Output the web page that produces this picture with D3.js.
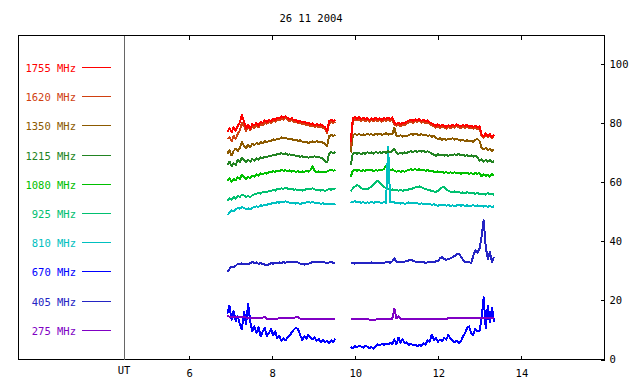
<!DOCTYPE html>
<html>
  <head>
    <meta charset="UTF-8">
    <script src="https://d3js.org/d3.v7.min.js" charset="utf-8"></script>
    <title>26 11 2004</title>
    <style>
      body { margin: 0; background: #fff; }
      .chart text { font-family: "DejaVu Sans Mono", "Liberation Mono", monospace; font-size: 10.5px; fill: #000; }
    </style>
  </head>
  <body>
    <svg class="chart"></svg>
    <script type="text/javascript">

     var width = 640,
         height = 384;

     var title = "26 11 2004";
     var hourTicks = [6, 8, 10, 12, 14];
     var valueTicks = [0, 20, 40, 60, 80, 100];

     var freqNames = ["1755 MHz", "1620 MHz", "1350 MHz", "1215 MHz", "1080 MHz",
                      "925 MHz", "810 MHz", "670 MHz", "405 MHz", "275 MHz"];
     var freqColors = ["#ff0000", "#d04010", "#8c5a00", "#228422", "#00c000",
                       "#00c070", "#00c0c0", "#0000ff", "#2424c4", "#8000c4"];

     // two observing runs, sampled every 0.05 h (UT)
     var times1 = d3.range(53).map(function(i) { return 6.92 + 0.05 * i; });
     var times2 = d3.range(70).map(function(i) { return 9.89 + 0.05 * i; });

     var s1755a = [77.0, 78.2, 76.8, 78.5, 77.4, 79.0, 80.2, 82.6, 80.5, 78.3,
                   79.4, 78.0, 79.6, 79.2, 80.0, 79.1, 80.4, 80.0, 80.8, 80.3,
                   81.0, 80.6, 81.4, 81.0, 81.8, 81.5, 82.2, 81.7, 82.3, 81.6,
                   81.2, 81.6, 80.8, 81.0, 80.4, 80.7, 80.2, 80.4, 79.8, 80.1,
                   79.5, 79.8, 79.2, 79.6, 79.1, 79.5, 79.0, 78.6, 77.2, 80.6,
                   81.0, 80.6, 81.1];
     var s1755b = [73.5, 81.5, 82.0, 81.4, 81.9, 81.3, 81.8, 81.2, 81.6, 81.0,
                   81.5, 81.1, 81.7, 81.2, 81.5, 81.0, 81.6, 81.3, 81.8, 81.2,
                   81.9, 80.0, 79.6, 80.1, 79.5, 80.0, 79.8, 80.4, 80.8, 81.1,
                   80.6, 81.2, 80.9, 81.3, 80.7, 81.0, 80.5, 80.8, 80.2, 79.8,
                   79.4, 79.0, 79.5, 78.9, 79.3, 79.0, 78.6, 79.2, 78.8, 79.4,
                   79.0, 79.5, 79.2, 78.8, 79.3, 78.9, 79.4, 78.7, 79.1, 78.6,
                   79.0, 78.5, 78.8, 76.2, 75.4, 76.4, 75.6, 76.2, 75.3, 76.0];

     var s1620a = [74.5, 75.2, 73.8, 75.6, 74.6, 76.3, 77.4, 80.0, 78.9, 77.3,
                   78.5, 77.6, 78.7, 78.3, 79.2, 78.5, 79.6, 79.3, 80.0, 79.7,
                   80.3, 79.9, 80.7, 80.4, 81.1, 80.8, 81.5, 81.1, 81.6, 81.0,
                   80.6, 80.9, 80.2, 80.4, 79.8, 80.1, 79.5, 79.7, 79.2, 79.5,
                   78.9, 79.2, 78.6, 79.0, 78.5, 78.8, 78.3, 77.9, 76.5, 79.9,
                   80.3, 80.0, 80.4];
     var s1620b = [72.0, 80.7, 81.3, 80.8, 81.2, 80.7, 81.1, 80.6, 81.0, 80.4,
                   80.9, 80.5, 81.0, 80.6, 80.9, 80.4, 81.0, 80.7, 81.1, 80.6,
                   81.2, 79.4, 79.0, 79.5, 78.9, 79.4, 79.2, 79.8, 80.2, 80.5,
                   80.0, 80.6, 80.3, 80.7, 80.1, 80.4, 79.9, 80.2, 79.6, 79.2,
                   78.8, 78.4, 78.9, 78.3, 78.7, 78.4, 78.0, 78.6, 78.2, 78.8,
                   78.4, 78.9, 78.6, 78.2, 78.7, 78.3, 78.8, 78.1, 78.5, 78.0,
                   78.4, 77.9, 78.2, 75.7, 75.0, 75.9, 75.2, 75.7, 74.9, 75.5];

     var s1350a = [69.6, 70.8, 69.0, 70.5, 71.3, 70.4, 71.6, 73.6, 72.2, 71.5,
                   72.6, 71.8, 72.9, 72.5, 73.2, 72.8, 73.5, 73.1, 73.8, 73.4,
                   74.0, 73.8, 74.4, 74.2, 74.7, 74.5, 75.1, 74.8, 75.0, 74.6,
                   74.4, 74.6, 74.1, 74.3, 73.9, 74.1, 73.7, 73.4, 73.6, 73.2,
                   73.5, 73.7, 73.4, 73.8, 73.5, 73.7, 73.3, 72.9, 72.2, 75.5,
                   75.9, 75.6, 76.0];
     var s1350b = [70.0, 75.8, 76.2, 75.9, 76.3, 75.8, 76.1, 75.9, 76.4, 76.0,
                   76.2, 75.8, 76.3, 76.0, 76.4, 75.9, 76.2, 76.5, 76.0, 76.3,
                   76.1, 78.3, 75.6, 75.4, 75.8, 75.3, 75.7, 75.5, 75.9, 76.2,
                   76.0, 76.4, 76.1, 75.8, 76.2, 75.9, 76.0, 75.6, 75.8, 75.3,
                   75.5, 74.9, 74.5, 74.8, 74.3, 74.6, 74.2, 74.7, 74.4, 74.8,
                   74.3, 74.6, 74.2, 74.0, 74.3, 73.8, 74.1, 73.7, 74.0, 73.6,
                   74.2, 74.6, 73.9, 71.6, 71.0, 71.5, 70.8, 71.2, 70.5, 71.0];

     var s1215a = [65.8, 66.9, 65.3, 66.4, 65.7, 67.6, 66.8, 68.2, 67.3, 66.6,
                   67.5, 66.9, 67.8, 67.2, 68.1, 67.6, 68.4, 68.0, 68.6, 68.3,
                   68.9, 68.6, 69.3, 69.0, 69.6, 69.3, 69.8, 69.4, 69.7, 69.2,
                   69.4, 69.0, 69.2, 68.7, 68.9, 68.5, 68.7, 68.3, 68.6, 68.2,
                   68.5, 68.4, 68.7, 68.3, 68.5, 68.1, 67.9, 67.0, 66.6, 69.6,
                   70.1, 69.7, 70.2];
     var s1215b = [65.8, 69.6, 70.0, 69.5, 69.9, 69.4, 69.8, 69.5, 70.1, 69.7,
                   70.0, 69.6, 70.2, 69.8, 70.1, 69.7, 70.3, 69.9, 70.4, 70.0,
                   70.5, 71.3, 69.8, 69.5, 69.9, 69.6, 70.0, 69.8, 70.2, 70.4,
                   70.1, 70.5, 70.2, 70.6, 70.3, 70.5, 70.1, 70.4, 70.0, 69.6,
                   69.3, 68.8, 69.4, 69.0, 69.3, 68.9, 69.2, 68.8, 69.3, 69.0,
                   69.4, 69.1, 69.5, 69.0, 69.3, 68.8, 69.1, 68.7, 69.0, 68.6,
                   68.9, 68.4, 67.2, 67.8, 66.8, 67.5, 66.9, 67.4, 66.6, 67.1];

     var s1080a = [60.2, 61.4, 60.0, 61.0, 60.6, 61.6, 61.1, 62.5, 61.6, 61.0,
                   61.7, 61.3, 62.0, 61.8, 62.6, 62.2, 62.9, 62.6, 63.1, 62.8,
                   63.4, 63.2, 63.7, 63.4, 63.9, 63.6, 64.1, 63.8, 64.0, 63.7,
                   63.9, 63.5, 63.8, 63.4, 63.7, 63.3, 63.6, 63.4, 63.7, 63.5,
                   64.0, 65.3, 63.7, 63.3, 63.6, 63.2, 63.5, 63.3, 63.6, 63.9,
                   64.2, 63.8, 64.1];
     var s1080b = [61.8, 63.9, 64.2, 63.8, 64.1, 63.7, 64.0, 63.8, 64.2, 63.9,
                   64.1, 63.7, 64.0, 63.8, 64.2, 64.0, 64.4, 65.6, 64.9, 64.0,
                   64.3, 63.8, 63.5, 63.8, 63.4, 63.7, 63.5, 63.9, 64.1, 64.3,
                   64.0, 64.4, 64.1, 64.3, 63.9, 64.2, 63.8, 64.0, 63.7, 63.9,
                   63.5, 63.3, 63.6, 63.2, 63.5, 63.1, 63.4, 63.0, 63.3, 63.0,
                   63.3, 62.9, 63.2, 62.8, 63.1, 62.9, 63.2, 62.8, 63.0, 62.7,
                   63.0, 62.8, 63.1, 61.9, 62.6, 62.1, 62.5, 61.8, 62.6, 62.2];

     var s925a = [53.5, 54.6, 54.0, 54.9, 54.4, 55.3, 55.0, 55.8, 55.4, 55.0,
                  55.2, 54.9, 55.5, 55.8, 56.0, 56.3, 56.1, 56.6, 56.8, 56.5,
                  57.0, 56.9, 57.3, 57.1, 57.6, 57.5, 57.9, 57.7, 58.1, 57.8,
                  57.6, 57.8, 57.4, 57.5, 57.2, 57.4, 57.1, 57.3, 57.6, 57.8,
                  57.6, 57.9, 57.5, 57.2, 57.4, 57.1, 57.3, 57.0, 57.3, 57.6,
                  57.4, 57.7, 57.5];
     var s925b = [57.0, 57.8, 58.5, 59.0, 58.6, 58.0, 57.5, 57.7, 57.6, 58.0,
                  58.4, 59.2, 60.0, 60.5, 59.8, 59.0, 58.3, 58.0, 57.6, 57.4,
                  57.5, 57.2, 57.4, 57.1, 57.3, 57.0, 57.4, 57.2, 57.5, 57.6,
                  57.9, 58.2, 58.4, 58.5, 58.2, 57.9, 57.6, 57.4, 57.2, 57.0,
                  56.8, 56.7, 57.0, 57.6, 58.2, 58.4, 57.6, 57.0, 56.7, 56.6,
                  56.8, 56.5, 56.7, 56.3, 56.5, 56.2, 56.6, 56.3, 56.1, 56.4,
                  56.0, 56.3, 56.0, 55.8, 56.1, 55.7, 56.4, 55.8, 56.0, 55.7];

     var s810a = [48.8, 49.6, 50.4, 50.2, 50.9, 51.2, 51.0, 51.5, 51.2, 50.8,
                  51.1, 50.7, 51.3, 51.5, 51.8, 51.6, 52.1, 52.0, 52.4, 52.3,
                  52.7, 52.6, 53.0, 52.8, 53.2, 53.0, 53.4, 53.3, 53.5, 53.2,
                  53.0, 52.8, 53.0, 52.7, 52.9, 52.6, 52.8, 52.9, 53.1, 53.2,
                  53.0, 53.3, 53.0, 52.8, 52.9, 52.6, 52.8, 52.5, 52.7, 52.5,
                  52.7, 52.4, 52.6];
     var s810b = [53.4, 53.2, 53.5, 53.1, 53.3, 53.0, 53.2, 52.9, 53.1, 53.0,
                  53.3, 53.0, 53.2, 53.4, 53.1, 53.0, 53.2, 53.0, 71.8, 53.2,
                  53.4, 53.1, 52.8, 53.0, 52.7, 52.9, 52.6, 52.8, 53.1, 52.9,
                  52.7, 53.0, 52.8, 52.6, 52.8, 52.5, 52.7, 52.4, 52.6, 52.3,
                  52.5, 52.2, 52.0, 52.3, 52.1, 52.3, 52.0, 52.2, 51.9, 52.1,
                  51.8, 52.1, 52.3, 52.0, 52.2, 51.9, 52.1, 51.8, 52.0, 52.2,
                  51.9, 52.1, 51.8, 52.0, 51.7, 51.9, 51.6, 52.0, 51.5, 51.8];

     var s670a = [15.5, 18.2, 13.5, 16.4, 13.0, 14.6, 11.8, 10.2, 16.2, 12.0,
                  18.8, 12.8, 9.6, 11.2, 8.9, 10.9, 7.8, 9.4, 10.6, 7.9,
                  9.0, 10.3, 8.2, 9.5, 7.1, 8.0, 6.3, 7.2, 6.5, 7.4,
                  8.1, 9.2, 10.1, 10.8, 10.2, 8.4, 6.6, 7.8, 7.0, 8.3,
                  7.4, 6.8, 7.5, 6.3, 6.9, 5.9, 6.6, 5.8, 6.4, 5.6,
                  6.5, 5.9, 7.0];
     var s670b = [4.2, 3.8, 4.5, 4.1, 4.7, 4.4, 4.0, 4.6, 4.3, 3.9,
                  4.2, 3.7, 4.6, 5.1, 4.8, 5.3, 5.0, 5.4, 5.1, 5.6,
                  5.3, 6.8, 5.2, 7.4, 5.6, 6.9, 5.5, 5.8, 5.0, 5.4,
                  4.8, 5.0, 4.5, 4.9, 4.6, 5.4, 5.0, 6.5, 6.0, 8.4,
                  6.6, 7.2, 6.0, 6.8, 6.2, 7.3, 6.7, 8.3, 7.0, 6.4,
                  5.8, 6.3, 5.6, 6.1, 7.8, 8.9, 10.6, 11.2, 9.0, 8.3,
                  10.4, 9.5, 9.5, 14.0, 21.0, 10.5, 18.2, 12.5, 17.5, 12.8];

     var s405a = [29.6, 30.6, 31.4, 31.2, 31.7, 32.4, 32.3, 32.5, 32.2, 32.4,
                  32.1, 32.6, 33.0, 32.5, 32.8, 32.3, 32.6, 32.2, 32.1, 31.8,
                  32.2, 32.6, 32.4, 32.7, 32.5, 32.8, 32.6, 32.9, 32.7, 33.0,
                  33.1, 32.9, 33.0, 33.1, 32.8, 32.4, 32.2, 32.1, 32.2, 32.3,
                  32.7, 32.9, 32.8, 32.9, 32.8, 32.9, 33.0, 32.8, 32.6, 32.8,
                  32.9, 32.7, 32.8];
     var s405b = [32.4, 32.6, 32.4, 32.7, 32.5, 32.6, 32.8, 32.5, 32.7, 32.6,
                  32.8, 32.6, 32.7, 32.5, 32.8, 32.6, 32.7, 32.9, 33.0, 32.7,
                  33.2, 34.2, 33.0, 32.8, 33.0, 32.9, 33.1, 33.2, 33.5, 33.7,
                  33.4, 33.1, 32.9, 33.0, 32.8, 32.9, 32.7, 32.8, 32.9, 33.1,
                  32.8, 33.2, 33.3, 34.2, 34.6, 34.0, 33.7, 33.9, 34.2, 34.6,
                  35.0, 35.5, 35.8, 34.8, 33.8, 33.0, 32.8, 32.9, 32.7, 35.0,
                  36.9, 36.0, 37.5, 41.5, 47.1, 38.1, 34.0, 36.4, 33.0, 34.7];

     var s275a = [14.9, 14.4, 14.3, 14.3, 14.4, 14.3, 14.2, 14.3, 14.3, 14.2,
                  14.1, 14.1, 14.1, 14.1, 14.1, 14.1, 14.1, 14.1, 14.5, 13.8,
                  13.8, 13.8, 13.8, 13.8, 13.8, 14.0, 14.0, 14.0, 14.0, 14.0,
                  14.0, 14.0, 14.0, 14.3, 14.3, 13.8, 13.8, 13.8, 13.8, 13.8,
                  13.8, 13.8, 13.8, 13.8, 13.8, 13.8, 13.8, 13.6, 13.8, 13.8,
                  13.8, 13.8, 13.8];
     var s275b = [13.6, 13.6, 13.6, 13.6, 13.6, 13.6, 13.6, 13.6, 13.6, 13.5,
                  13.5, 13.5, 13.5, 13.8, 13.8, 13.8, 13.8, 13.8, 13.8, 13.8,
                  13.8, 17.2, 13.9, 14.6, 13.8, 13.8, 13.8, 13.8, 13.8, 13.8,
                  13.8, 13.8, 13.8, 13.8, 13.8, 13.8, 13.8, 13.8, 13.8, 13.8,
                  13.8, 13.8, 13.8, 13.8, 13.8, 13.8, 13.8, 13.9, 13.9, 14.0,
                  14.1, 14.1, 14.1, 14.1, 14.1, 14.1, 14.1, 14.1, 13.9, 14.1,
                  14.1, 14.1, 14.1, 14.1, 14.1, 14.1, 14.1, 14.1, 14.1, 14.1];

     // same order as freqNames
     var runs1 = [s1755a, s1620a, s1350a, s1215a, s1080a, s925a, s810a, s670a, s405a, s275a];
     var runs2 = [s1755b, s1620b, s1350b, s1215b, s1080b, s925b, s810b, s670b, s405b, s275b];
     // back to front
     var drawOrder = [7, 9, 8, 5, 4, 6, 3, 2, 1, 0];

     var plotLeft = 18.5, plotRight = 604.5, plotTop = 35.5, plotBottom = 359.5;

     var x = d3.scaleLinear().domain([1.89, 16]).range([plotLeft, plotRight]);
     var y = d3.scaleLinear().domain([0, 100]).range([plotBottom, 63.7]);

     var chart = d3.select(".chart")
                   .attr("width", width)
                   .attr("height", height);

     chart.append("text")
          .attr("x", 311)
          .attr("y", 22)
          .attr("text-anchor", "middle")
          .text(title);

     // frame
     chart.append("rect")
          .attr("x", plotLeft)
          .attr("y", plotTop)
          .attr("width", plotRight - plotLeft)
          .attr("height", plotBottom - plotTop)
          .attr("fill", "none")
          .attr("stroke", "#000")
          .attr("shape-rendering", "crispEdges");

     // separator between legend and time axis
     chart.append("line")
          .attr("x1", 124.5).attr("x2", 124.5)
          .attr("y1", plotTop).attr("y2", plotBottom)
          .attr("stroke", "#666")
          .attr("shape-rendering", "crispEdges");

     var bottomAxis = chart.append("g")
                           .attr("transform", "translate(0," + plotBottom + ")")
                           .call(d3.axisBottom(x).tickValues(hourTicks).tickSize(-4).tickPadding(10));
     var topAxis = chart.append("g")
                        .attr("transform", "translate(0," + plotTop + ")")
                        .call(d3.axisTop(x).tickValues(hourTicks).tickSize(-4).tickFormat(""));
     var rightAxis = chart.append("g")
                          .attr("transform", "translate(" + plotRight + ",0)")
                          .call(d3.axisRight(y).tickValues(valueTicks).tickSize(-4).tickPadding(5));

     chart.selectAll(".domain").remove();
     chart.selectAll(".tick line")
          .attr("stroke", "#000")
          .attr("shape-rendering", "crispEdges");
     chart.selectAll(".tick text")
          .attr("font-family", null)
          .attr("font-size", null);

     chart.append("text")
          .attr("x", 124)
          .attr("y", 374)
          .attr("text-anchor", "middle")
          .text("UT");

     // legend
     var legend = chart.append("g")
                       .selectAll("g")
                       .data(freqNames)
                       .enter().append("g")
                       .attr("transform", function(d, i) { return "translate(0," + (Math.round(67 + 29.2 * i) + 0.5) + ")"; });

     legend.append("text")
           .attr("x", 76)
           .attr("y", 4.5)
           .attr("text-anchor", "end")
           .style("fill", function(d, i) { return freqColors[i]; })
           .text(function(d) { return d; });

     legend.append("line")
           .attr("x1", 82).attr("x2", 111)
           .attr("y1", 0).attr("y2", 0)
           .attr("stroke", function(d, i) { return freqColors[i]; })
           .attr("shape-rendering", "crispEdges");

     // data
     var line = d3.line()
                  .x(function(d) { return x(d[0]); })
                  .y(function(d) { return y(d[1]); });

     var curves = chart.append("g").attr("class", "series");

     drawOrder.forEach(function(k) {
         [[times1, runs1[k]], [times2, runs2[k]]].forEach(function(run) {
             curves.append("path")
                   .datum(d3.zip(run[0], run[1]))
                   .attr("fill", "none")
                   .attr("stroke", freqColors[k])
                   .attr("stroke-width", 2)
                   .attr("stroke-linejoin", "round")
                   .attr("shape-rendering", "crispEdges")
                   .attr("d", line);
         });
     });

    </script>
  </body>
</html>
